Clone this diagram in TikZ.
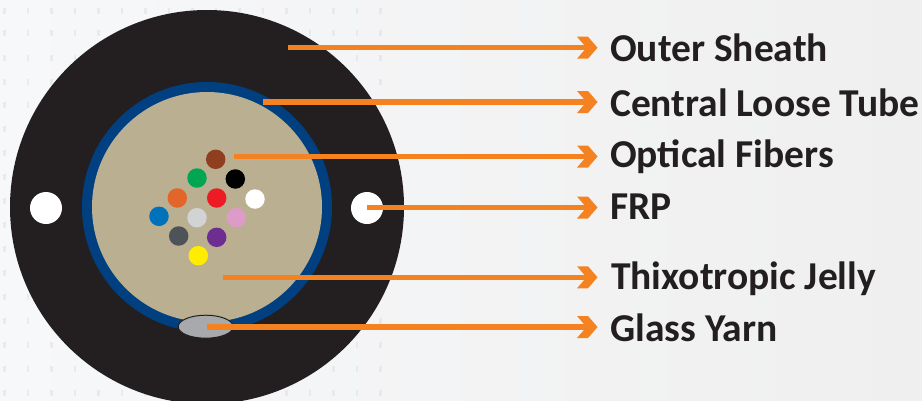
\documentclass[tikz,border=0pt]{standalone}
\usepackage{fontspec}
\setmainfont{Carlito}
\usetikzlibrary{arrows.meta,shapes.geometric}
\definecolor{bgl}{HTML}{F7F8FA}
\definecolor{bgr}{HTML}{EFEFEF}
\definecolor{sheath}{HTML}{231F20}
\definecolor{ringblue}{HTML}{004080}
\definecolor{jelly}{HTML}{BAAF90}
\definecolor{arrowo}{HTML}{F58220}
\pgfdeclarearrow{
  name=Chev,
  setup code={
    \pgfarrowssettipend{0pt}
    \pgfarrowssetlineend{-11pt}
    \pgfarrowssetbackend{-20.5pt}
    \pgfarrowssetvisualbackend{-11pt}
    \pgfarrowshullpoint{0pt}{0pt}
    \pgfarrowshullpoint{-20.5pt}{11pt}
    \pgfarrowshullpoint{-20.5pt}{-11pt}
  },
  drawing code={
    \pgfpathmoveto{\pgfqpoint{-20.5pt}{11pt}}
    \pgfpathlineto{\pgfqpoint{-9.5pt}{11pt}}
    \pgfpathlineto{\pgfqpoint{0pt}{0pt}}
    \pgfpathlineto{\pgfqpoint{-9.5pt}{-11pt}}
    \pgfpathlineto{\pgfqpoint{-20.5pt}{-11pt}}
    \pgfpathlineto{\pgfqpoint{-11pt}{0pt}}
    \pgfpathclose
    \pgfusepathqfill
  }
}
\tikzset{
  fiber/.style={circle,minimum size=19.5pt,inner sep=0pt,draw=none},
  hole/.style={circle,fill=white,minimum size=32pt,inner sep=0pt},
  lab/.style={anchor=base west,inner sep=0pt,font=\fontsize{39.5}{39.5}\selectfont\bfseries,text=sheath},
  lead/.style={draw=arrowo,line width=5.4pt,-{Chev[]}}
}
\begin{document}
\begin{tikzpicture}[x=1pt,y=-1pt]
\useasboundingbox (0,0) rectangle (922,400);
\begin{scope}
\clip (0,0) rectangle (922,400);
\shade[left color=bgl,right color=bgr] (0,0) rectangle (922,400);
\foreach \r in {11,33,58,82,105,129,153,177,201,225,249,273,297,321,345,369,393} \foreach \c in {3,26.5,...,400}
  \fill[gray,opacity=.1] (\c,\r-3) rectangle +(2.5,6);
\fill[sheath] (207,207) circle (197);
\fill[ringblue] (207,207) circle (125);
\fill[jelly] (207,207) circle (115);
\end{scope}
\node[hole] (h1) at (46,208) {};
\node[hole] (h2) at (367,208) {};
\node[fiber,fill={rgb,255:red,143;green,63;blue,31}] (f1) at (215.7,159.3) {};
\node[fiber,fill={rgb,255:red,0;green,166;blue,81}] (f2) at (197,178) {};
\node[fiber,fill=black] (f3) at (235.3,179) {};
\node[fiber,fill={rgb,255:red,226;green,101;blue,41}] (f4) at (177.3,198) {};
\node[fiber,fill={rgb,255:red,237;green,28;blue,36}] (f5) at (216.7,198) {};
\node[fiber,fill=white] (f6) at (255,199) {};
\node[fiber,fill={rgb,255:red,0;green,114;blue,188}] (f7) at (159,216.3) {};
\node[fiber,fill={rgb,255:red,209;green,211;blue,212}] (f8) at (197,217.7) {};
\node[fiber,fill={rgb,255:red,222;green,155;blue,199}] (f9) at (236.3,217.7) {};
\node[fiber,fill={rgb,255:red,77;green,83;blue,88}] (f10) at (178.7,236) {};
\node[fiber,fill={rgb,255:red,110;green,45;blue,145}] (f11) at (216.7,237.3) {};
\node[fiber,fill={rgb,255:red,255;green,237;blue,0}] (f12) at (198.3,255.7) {};
\node[ellipse,draw=sheath,line width=1pt,fill={rgb,255:red,167;green,169;blue,172},minimum width=55pt,minimum height=23pt,inner sep=0pt] (gy) at (205.7,326.7) {};
\coordinate (s1) at (288,47.7);
\coordinate (s2) at (263,102);
\coordinate (s3) at (234,156.5);
\coordinate (s4) at (367,207.5);
\coordinate (s5) at (223,277.3);
\coordinate (s6) at (207,327);
\node[lab] (l1) at (610,61.5) {Outer Sheath};
\node[lab] (l2) at (610,116) {Central Loose Tube};
\node[lab] (l3) at (610,167.5) {Optical Fibers};
\node[lab] (l4) at (610,219.5) {FRP};
\node[lab] (l5) at (611,289) {Thixotropic Jelly};
\node[lab] (l6) at (610,341.5) {Glass Yarn};
\coordinate (e1) at (597.5,47.7);
\coordinate (e2) at (597.5,102);
\coordinate (e3) at (597.5,156.5);
\coordinate (e4) at (597.5,207.5);
\coordinate (e5) at (597.5,277.3);
\coordinate (e6) at (597.5,327);
\foreach \i in {1,...,6} \draw[lead] (s\i) -- (e\i);
\end{tikzpicture}
\end{document}
